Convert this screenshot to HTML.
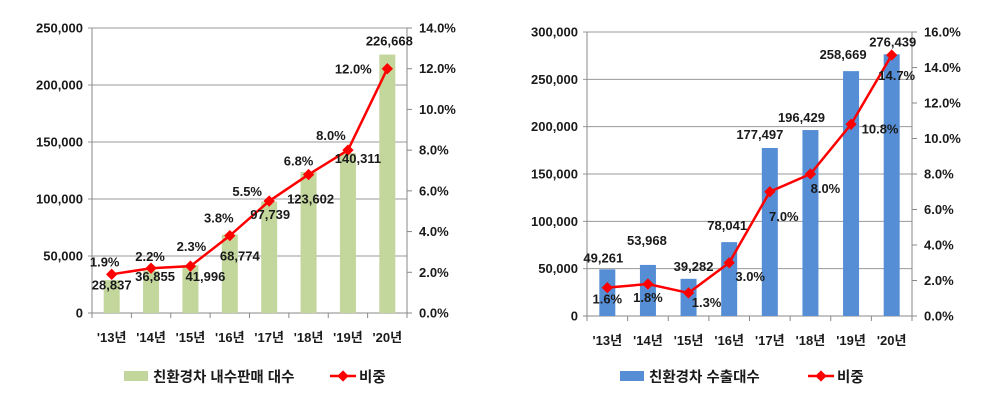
<!DOCTYPE html>
<html><head><meta charset="utf-8"><style>
body{margin:0;background:#fff;width:1000px;height:406px;overflow:hidden}
svg text{font-family:"Liberation Sans","Noto Sans CJK KR",sans-serif;font-weight:bold;fill:#1a1a1a}
</style></head><body>
<svg id="svg" width="1000" height="406" xmlns="http://www.w3.org/2000/svg"></svg>
<script>
const categories = ["'13년","'14년","'15년","'16년","'17년","'18년","'19년","'20년"];
const domesticSales = [28837,36855,41996,68774,97739,123602,140311,226668];
const domesticShare = [1.9,2.2,2.3,3.8,5.5,6.8,8.0,12.0];
const exportUnits = [49261,53968,39282,78041,177497,196429,258669,276439];
const exportShare = [1.6,1.8,1.3,3.0,7.0,8.0,10.8,14.7];
const leftTicksL = [0,50000,100000,150000,200000,250000];
const rightTicksL = [0,2,4,6,8,10,12,14];
const leftTicksR = [0,50000,100000,150000,200000,250000,300000];
const rightTicksR = [0,2,4,6,8,10,12,14,16];

const NS="http://www.w3.org/2000/svg";
const svg=document.getElementById('svg');
function mk(tag,attrs,parent){const e=document.createElementNS(NS,tag);for(const k in attrs)e.setAttribute(k,attrs[k]);(parent||svg).appendChild(e);return e;}
function fmt(v){return v.toLocaleString('en-US');}

function chart(cfg){
  const g=mk('g',{});
  
  
  const {x0,x1,y0,y1}=cfg;
  const n=categories.length, cw=(x1-x0)/n;
  const yL=v=>y0-(v/cfg.lmax)*(y0-y1);
  const yR=v=>y0-(v/cfg.rmax)*(y0-y1);
  const xc=i=>x0+cw*(i+0.5);
  cfg.lticks.forEach(t=>{
    const l=mk('line',{x1:x0-4,x2:x1,y1:yL(t),y2:yL(t),stroke:t===0?'#888':'#999','stroke-width':1},g);
    
    
    const tx=mk('text',{x:x0-9,y:yL(t)+4.5,'text-anchor':'end','font-size':13},g);
    
    
    tx.textContent=fmt(t);
  });
  cfg.rticks.forEach(t=>{
    const l=mk('line',{x1:x1,x2:x1+5,y1:yR(t),y2:yR(t),stroke:'#888'},g);
    
    
    const tx=mk('text',{x:x1+12,y:yR(t)+4.5,'font-size':13},g);
    
    
    tx.textContent=t.toFixed(1)+'%';
  });
  const ax=mk('path',{d:`M${x0},${y1}V${y0}M${x1},${y1}V${y0}`,stroke:'#888',fill:'none'},g);
  
  
  for(let i=0;i<=n;i++){
    const t=mk('line',{x1:x0+cw*i,x2:x0+cw*i,y1:y0,y2:y0+5,stroke:'#888'},g);
    
    
  }
  categories.forEach((c,i)=>{
    const t=mk('text',{x:xc(i),y:y0+29,'text-anchor':'middle','font-size':13},g);
    
    
    t.textContent=c;
  });
  cfg.bars.forEach((v,i)=>{
    const b=mk('rect',{x:xc(i)-8,y:yL(v),width:16,height:y0-yL(v),fill:cfg.barColor},g);
    
    
  });
  const pts=cfg.line.map((v,i)=>[xc(i),yR(v)]);
  const pl=mk('polyline',{points:pts.map(p=>p.join(',')).join(' '),fill:'none',stroke:'#f00','stroke-width':2.5},g);
  
  
  pts.forEach(p=>{
    const m=mk('rect',{x:p[0]-4,y:p[1]-4,width:8,height:8,fill:'#f00',transform:`rotate(45 ${p[0]} ${p[1]})`},g);
    
    
  });
  cfg.bars.forEach((v,i)=>{
    const o=cfg.barLabOff[i];
    const t=mk('text',{x:pts[i][0]+o[0],y:cfg.barLabFromLine?pts[i][1]+o[1]:yL(v)+o[1],'text-anchor':'middle','font-size':13},g);
    
    
    t.textContent=fmt(v);
  });
  cfg.line.forEach((v,i)=>{
    const o=cfg.pctLabOff[i];
    const t=mk('text',{x:pts[i][0]+o[0],y:pts[i][1]+o[1],'text-anchor':'middle','font-size':13},g);
    
    
    t.textContent=v.toFixed(1)+'%';
  });
  // legend
  const lg=mk('g',{},g);
  
  
  const s=mk('rect',{x:cfg.legX,y:371,width:24,height:10,fill:cfg.barColor},lg);
  
  
  const lt=mk('text',{x:cfg.legX+29,y:382,'font-size':14.5},lg);
  
  
  lt.textContent=cfg.barName;
  const ll=mk('line',{x1:cfg.legX2,x2:cfg.legX2+26,y1:376,y2:376,stroke:'#f00','stroke-width':2.5},lg);
  
  
  const lm=mk('rect',{x:cfg.legX2+9,y:372,width:8,height:8,fill:'#f00',transform:`rotate(45 ${cfg.legX2+13} 376)`},lg);
  
  
  const lt2=mk('text',{x:cfg.legX2+29,y:382,'font-size':14.5},lg);
  
  
  lt2.textContent='비중';
}

chart({name:'domestic-sales-chart',x0:92,x1:407,y0:313,y1:28,lmax:250000,rmax:14,
  lticks:leftTicksL,rticks:rightTicksL,bars:domesticSales,line:domesticShare,barColor:'#c3d69b',
  barLabFromLine:true,
  barLabOff:[[0,15],[4,13],[15,15],[10,25],[1,18],[2,29],[10,13],[2,-23]],
  pctLabOff:[[-7,-8],[-1,-7],[1,-15],[-11,-13],[-22,-5],[-10,-9],[-17,-10],[-34,5]],
  barName:'친환경차 내수판매 대수',legX:124,legX2:330});
chart({name:'export-chart',x0:587,x1:912,y0:316,y1:32,lmax:300000,rmax:16,
  lticks:leftTicksR,rticks:rightTicksR,bars:exportUnits,line:exportShare,barColor:'#558ed5',
  barLabFromLine:false,
  barLabOff:[[-4,-7],[-1,-20],[5,-8],[-2,-12],[-10,-9],[-9,-8],[-8,-12],[1,-8]],
  pctLabOff:[[0,16],[0,18],[18,14],[21,18],[14,29],[15,19],[29,9],[5,25]],
  barName:'친환경차 수출대수',legX:620,legX2:808});
</script>
</body></html>
